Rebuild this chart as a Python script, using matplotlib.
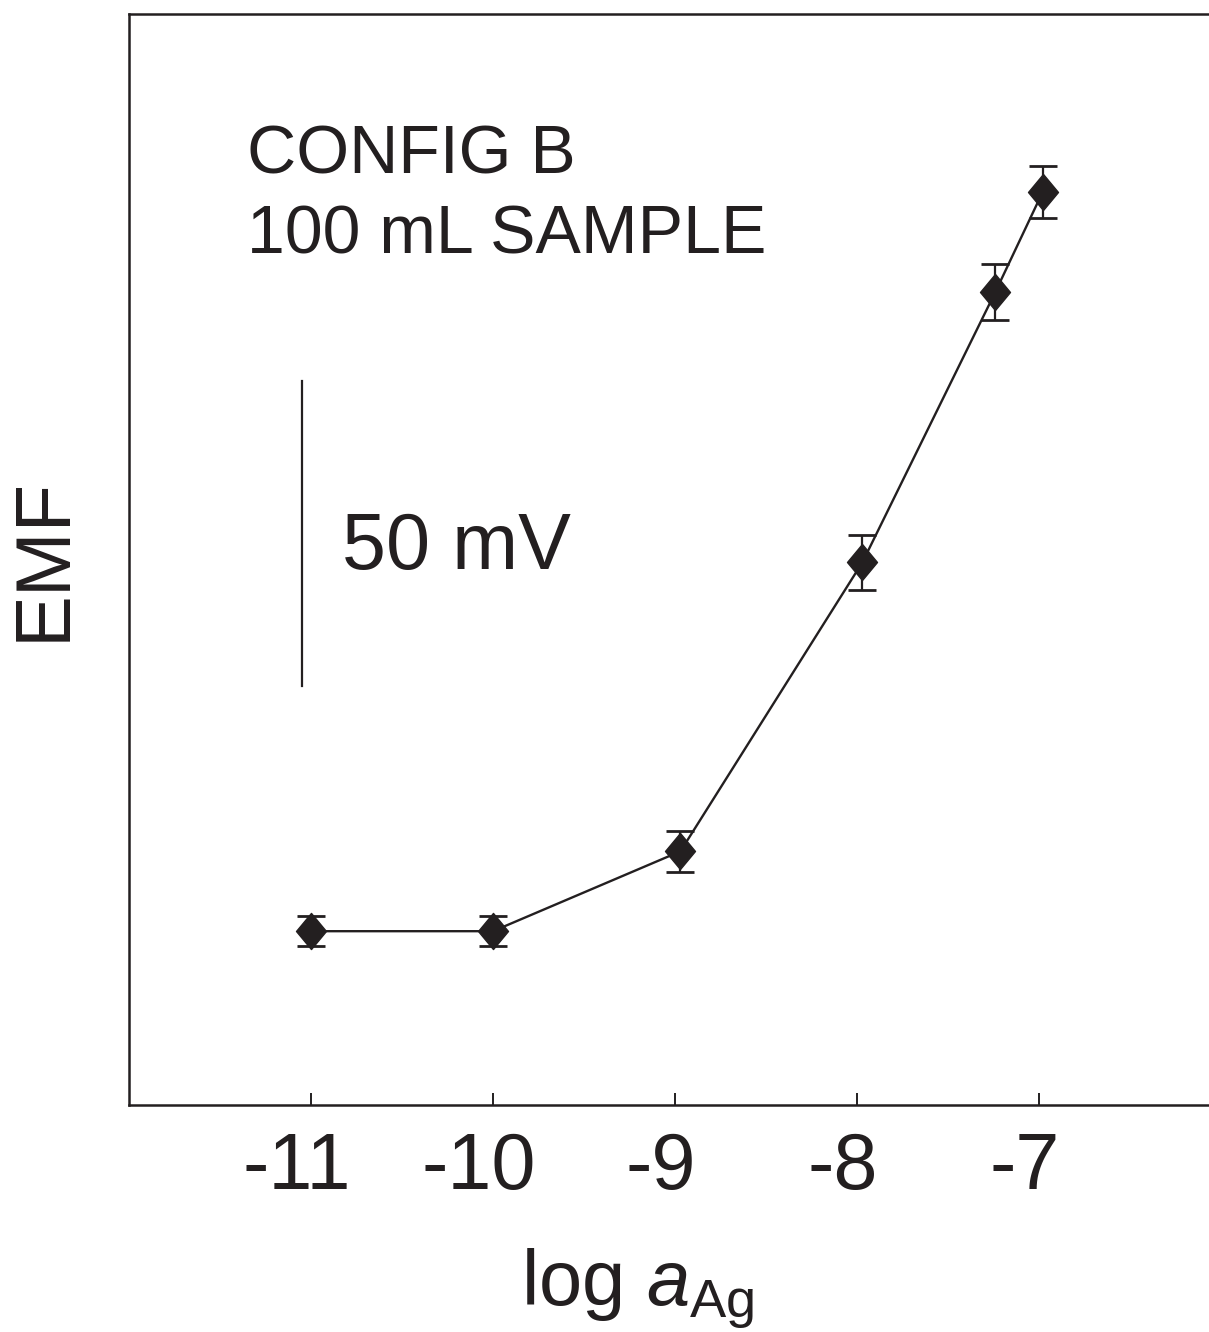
import matplotlib
matplotlib.use("Agg")
import matplotlib.pyplot as plt
import matplotlib.transforms as mtransforms
from matplotlib.path import Path

# calibration data: log activity of Ag+ vs measured EMF (mV, arbitrary offset)
log_a = [-11.0, -10.0, -8.97, -7.97, -7.24, -6.98]
emf = [28.5, 28.5, 41.6, 89.0, 133.3, 149.7]
emf_err = [2.5, 2.5, 3.4, 4.5, 4.6, 4.3]

xticks = [-11, -10, -9, -8, -7]
xticklabels = ["-11", "-10", "-9", "-8", "-7"]

scale_bar_mv = 50
scale_bar_x = -11.05
scale_bar_y0 = 68.7

ink = "#231f20"
plt.rcParams["font.family"] = ["Liberation Sans", "DejaVu Sans"]
plt.rcParams["mathtext.fontset"] = "custom"
plt.rcParams["mathtext.rm"] = "Liberation Sans"
plt.rcParams["mathtext.it"] = "Liberation Sans:italic"

W, H = 1209, 1332
fig = plt.figure(figsize=(W / 100, H / 100), dpi=100)
ax = fig.add_axes([129 / W, 227 / H, 1092 / W, 1091 / H])

# taller-than-wide diamond marker
diamond = Path([(0, 1), (0.83, 0), (0, -1), (-0.83, 0), (0, 1)],
               [Path.MOVETO, Path.LINETO, Path.LINETO, Path.LINETO, Path.CLOSEPOLY])

ax.errorbar(log_a, emf, yerr=emf_err, color=ink, lw=1.7, marker=diamond,
            ms=26, mfc=ink, mec=ink, ecolor=ink, elinewidth=1.6,
            capsize=10, capthick=2.0, zorder=3)

# 50 mV scale bar
ax.plot([scale_bar_x, scale_bar_x], [scale_bar_y0, scale_bar_y0 + scale_bar_mv],
        color=ink, lw=1.6)

ax.set_xlim(-12, -6)
ax.set_ylim(0, 178.9)
ax.set_yticks([])
ax.set_xticks(xticks)
ax.set_xticklabels([])
ax.tick_params(axis="x", direction="in", length=8.5, width=1.4, color=ink)

for side in ["left", "bottom", "top"]:
    ax.spines[side].set_linewidth(1.8)
    ax.spines[side].set_color(ink)
ax.spines["right"].set_visible(False)

# tick labels: digits centred on the tick, hyphen hanging to the left
offset = mtransforms.ScaledTranslation(-14 / 100, -26 / 100, fig.dpi_scale_trans)
trans = ax.get_xaxis_transform() + offset
for t, lab in zip(xticks, xticklabels):
    ax.text(t, 0, lab, transform=trans, ha="center", va="top",
            fontsize=57, color=ink)

fig.text(247 / W, 1 - 173 / H, "CONFIG B", fontsize=49, color=ink,
         ha="left", va="baseline")
fig.text(247 / W, 1 - 254 / H, "100 mL SAMPLE", fontsize=49, color=ink,
         ha="left", va="baseline")
fig.text(342 / W, 1 - 569 / H, "50 mV", fontsize=57, color=ink,
         ha="left", va="baseline")

fig.text(65 / W, 1 - 559 / H, "EMF", fontsize=56, color=ink, rotation=90,
         rotation_mode="anchor", ha="center", va="baseline")

fig.text(521 / W, 1 - 1306 / H, r"$\mathrm{log}\ \mathit{a}_{\mathrm{Ag}}$",
         fontsize=56, color=ink, ha="left", va="baseline")

fig.savefig("out.png", dpi=100)
